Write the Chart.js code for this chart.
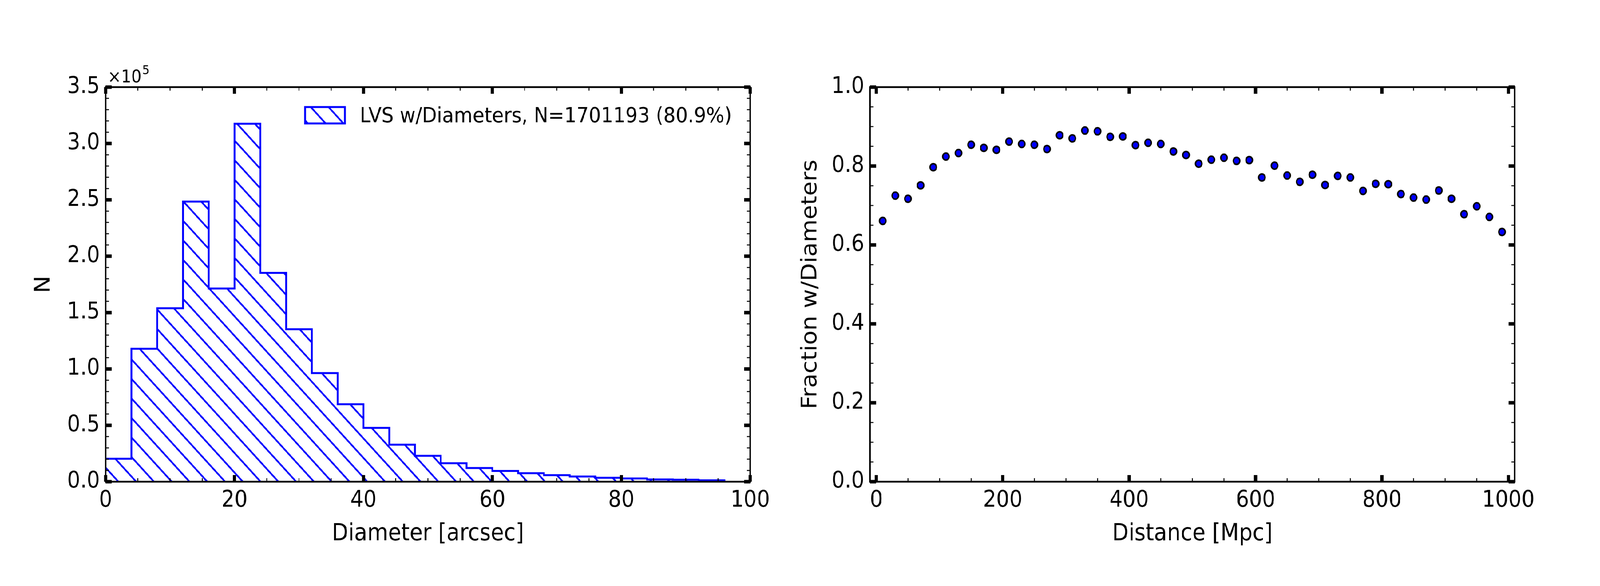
<!DOCTYPE html>
<html>
<head>
<meta charset="utf-8">
<script src="https://cdn.jsdelivr.net/npm/chart.js@4.4.0/dist/chart.umd.min.js"></script>
<style>
  html, body { margin: 0; padding: 0; background: #fff; overflow: hidden; }
  #page { position: relative; overflow: hidden; background: #fff; }
  #wrap { position: absolute; left: 0; top: 0; width: 4500px; height: 1500px; background: #fff; transform-origin: 0 0; }
  #histCanvas { position: absolute; left: 0; top: 0; }
  #fracCanvas { position: absolute; left: 2200px; top: 0; }
</style>
</head>
<body>
<div id="page">
  <div id="wrap">
    <canvas id="histCanvas" width="2200" height="1500"></canvas>
    <canvas id="fracCanvas" width="2300" height="1500"></canvas>
  </div>
</div>
<script>
// --- datos ---
const DIAM_EDGES = [0, 4, 8, 12, 16, 20, 24, 28, 32, 36, 40, 44, 48, 52, 56, 60, 64, 68, 72, 76, 80, 84, 88, 92, 96];
const DIAM_COUNTS = [20400, 117900, 153900, 248500, 171400, 317500, 185200, 135200, 96300, 68700,
                     47700, 32800, 23000, 16400, 12100, 9500, 7500, 5800, 4600, 3500, 2900, 2000, 1700, 1200];
const DIAM_TICKS = [0, 20, 40, 60, 80, 100];
const COUNT_TICKS = [0, 50000, 100000, 150000, 200000, 250000, 300000, 350000];
const LEGEND_LABEL = 'LVS w/Diameters, N=1701193 (80.9%)';

const DIST_MPC = [10, 30, 50, 70, 90, 110, 130, 150, 170, 190, 210, 230, 250, 270, 290, 310, 330, 350, 370, 390,
                  410, 430, 450, 470, 490, 510, 530, 550, 570, 590, 610, 630, 650, 670, 690, 710, 730, 750, 770, 790,
                  810, 830, 850, 870, 890, 910, 930, 950, 970, 990];
const FRAC_DIAM = [0.661, 0.725, 0.717, 0.751, 0.797, 0.824, 0.833, 0.854, 0.846, 0.841,
                   0.862, 0.856, 0.854, 0.843, 0.878, 0.870, 0.890, 0.888, 0.874, 0.875,
                   0.853, 0.859, 0.856, 0.837, 0.828, 0.806, 0.816, 0.821, 0.813, 0.815,
                   0.771, 0.801, 0.776, 0.760, 0.778, 0.752, 0.775, 0.771, 0.737, 0.755,
                   0.754, 0.729, 0.720, 0.715, 0.738, 0.717, 0.678, 0.698, 0.671, 0.633];
const DIST_TICKS = [0, 200, 400, 600, 800, 1000];
const FRAC_TICKS = [0, 0.2, 0.4, 0.6, 0.8, 1.0];

const FONT = 'DejaVu Sans';
const BLUE = '#0000ff';
Chart.defaults.font.family = FONT;
Chart.defaults.color = '#000';

// la ventana real puede ser más estrecha que 4500 px: ajustar el ancho de la figura a la ventana
const fitX = Math.min(1, window.innerWidth / 4500);
const fitY = Math.min(1, window.innerHeight / 1500);
document.getElementById('wrap').style.transform = 'scale(' + fitX + ',' + fitY + ')';
const page = document.getElementById('page');
page.style.width = Math.floor(4500 * fitX) + 'px';
page.style.height = Math.floor(1500 * fitY) + 'px';

// patrón de rayado '\\' como el hatch de matplotlib
function makeHatch(spacing, width, color) {
  const c = document.createElement('canvas');
  c.width = spacing; c.height = spacing;
  const g = c.getContext('2d');
  g.strokeStyle = color;
  g.lineWidth = width;
  g.beginPath();
  g.moveTo(-spacing, -spacing); g.lineTo(2 * spacing, 2 * spacing);
  g.moveTo(-spacing, 0); g.lineTo(spacing, 2 * spacing);
  g.moveTo(0, -spacing); g.lineTo(2 * spacing, spacing);
  g.stroke();
  return g.createPattern(c, 'repeat');
}
const hatch = makeHatch(50, 4.5, BLUE);

// marco + ticks hacia dentro en los cuatro lados
const frameTicks = {
  id: 'frameTicks',
  afterDraw(chart, args, opts) {
    const { ctx, chartArea: a, scales } = chart;
    const sx = scales.x, sy = scales.y;
    ctx.save();
    ctx.strokeStyle = '#000';
    const minorVals = (s, step) => {
      const out = [];
      for (let k = Math.ceil(s.min / step - 1e-9); k * step <= s.max + 1e-9; k++) out.push(k * step);
      return out;
    };
    const drawX = (vals, len, w) => {
      ctx.lineWidth = w;
      ctx.beginPath();
      vals.forEach(v => {
        const px = sx.getPixelForValue(v);
        ctx.moveTo(px, a.bottom); ctx.lineTo(px, a.bottom - len);
        ctx.moveTo(px, a.top); ctx.lineTo(px, a.top + len);
      });
      ctx.stroke();
    };
    const drawY = (vals, len, w) => {
      ctx.lineWidth = w;
      ctx.beginPath();
      vals.forEach(v => {
        const py = sy.getPixelForValue(v);
        ctx.moveTo(a.left, py); ctx.lineTo(a.left + len, py);
        ctx.moveTo(a.right, py); ctx.lineTo(a.right - len, py);
      });
      ctx.stroke();
    };
    drawX(minorVals(sx, opts.xMinor), 9, 2.5);
    drawY(minorVals(sy, opts.yMinor), 9, 2.5);
    drawX(sx.ticks.map(t => t.value), 17, 9);
    drawY(sy.ticks.map(t => t.value), 17, 9);
    ctx.lineWidth = 4.5;
    ctx.strokeRect(a.left, a.top, a.right - a.left, a.bottom - a.top);
    ctx.restore();
  }
};

// leyenda del histograma y texto de escala ×10^5
const histExtras = {
  id: 'histExtras',
  afterDraw(chart) {
    const { ctx } = chart;
    ctx.save();
    ctx.fillStyle = hatch;
    ctx.fillRect(858, 274, 112, 42);
    ctx.strokeStyle = BLUE;
    ctx.lineWidth = 5;
    ctx.strokeRect(858, 274, 112, 42);
    ctx.fillStyle = '#000';
    ctx.textBaseline = 'alphabetic';
    ctx.font = '54px "' + FONT + '"';
    ctx.fillText(LEGEND_LABEL, 1012, 313);
    ctx.font = '45px "' + FONT + '"';
    ctx.fillText('\u00d710', 303, 211);
    ctx.font = '32px "' + FONT + '"';
    ctx.fillText('5', 400, 190);
    ctx.restore();
  }
};

function axisCommon(ticksArr, fmt, pad) {
  return {
    type: 'linear',
    afterBuildTicks: s => { s.ticks = ticksArr.map(v => ({ value: v })); },
    grid: { display: false, drawTicks: false },
    border: { display: false },
    ticks: { padding: pad, font: { size: 58 }, color: '#000', callback: fmt, autoSkip: false, maxRotation: 0 }
  };
}

// --- histograma de diámetros (contorno escalonado) ---
const histPoints = DIAM_COUNTS.map((c, i) => ({ x: DIAM_EDGES[i], y: c }));
histPoints.push({ x: DIAM_EDGES[DIAM_EDGES.length - 1], y: DIAM_COUNTS[DIAM_COUNTS.length - 1] });
histPoints.push({ x: DIAM_EDGES[DIAM_EDGES.length - 1], y: 0 });

new Chart(document.getElementById('histCanvas'), {
  type: 'line',
  data: {
    datasets: [{
      label: LEGEND_LABEL,
      data: histPoints,
      stepped: 'before',
      borderColor: BLUE,
      borderWidth: 5,
      backgroundColor: hatch,
      fill: 'origin',
      pointRadius: 0
    }]
  },
  options: {
    responsive: false,
    animation: false,
    devicePixelRatio: 1,
    layout: { padding: { left: 0, top: 223, right: 90, bottom: 0 } },
    plugins: { legend: { display: false }, tooltip: { enabled: false },
               frameTicks: { xMinor: 5, yMinor: 10000 } },
    scales: {
      x: Object.assign(axisCommon(DIAM_TICKS, v => v, 14), {
        min: 0, max: 100,
        afterFit: s => { s.height = 267; },
        title: { display: true, text: 'Diameter [arcsec]', font: { size: 60 }, color: '#000', padding: { top: 0, bottom: 97 } }
      }),
      y: Object.assign(axisCommon(COUNT_TICKS, v => (v / 1e5).toFixed(1), 16), {
        min: 0, max: 350000,
        afterFit: s => { s.width = 297; },
        title: { display: true, text: 'N', font: { size: 60 }, color: '#000', padding: { top: 88, bottom: 0 } }
      })
    }
  },
  plugins: [frameTicks, histExtras]
});

// --- fracción con diámetros vs distancia ---
new Chart(document.getElementById('fracCanvas'), {
  type: 'scatter',
  data: {
    datasets: [{
      label: 'Fraction w/Diameters',
      data: DIST_MPC.map((d, i) => ({ x: d, y: FRAC_DIAM[i] })),
      backgroundColor: BLUE,
      borderColor: '#000',
      borderWidth: 4,
      pointRadius: 9
    }]
  },
  options: {
    responsive: false,
    animation: false,
    devicePixelRatio: 1,
    layout: { padding: { left: 0, top: 223, right: 240, bottom: 0 } },
    plugins: { legend: { display: false }, tooltip: { enabled: false },
               frameTicks: { xMinor: 50, yMinor: 0.05 } },
    scales: {
      x: Object.assign(axisCommon(DIST_TICKS, v => v, 14), {
        min: -10, max: 1010,
        afterFit: s => { s.height = 267; },
        title: { display: true, text: 'Distance [Mpc]', font: { size: 60 }, color: '#000', padding: { top: 0, bottom: 97 } }
      }),
      y: Object.assign(axisCommon(FRAC_TICKS, v => v.toFixed(1), 16), {
        min: 0, max: 1.0,
        afterFit: s => { s.width = 247; },
        title: { display: true, text: 'Fraction w/Diameters', font: { size: 60 }, color: '#000', padding: { top: 44, bottom: 0 } }
      })
    }
  },
  plugins: [frameTicks]
});
</script>
</body>
</html>
